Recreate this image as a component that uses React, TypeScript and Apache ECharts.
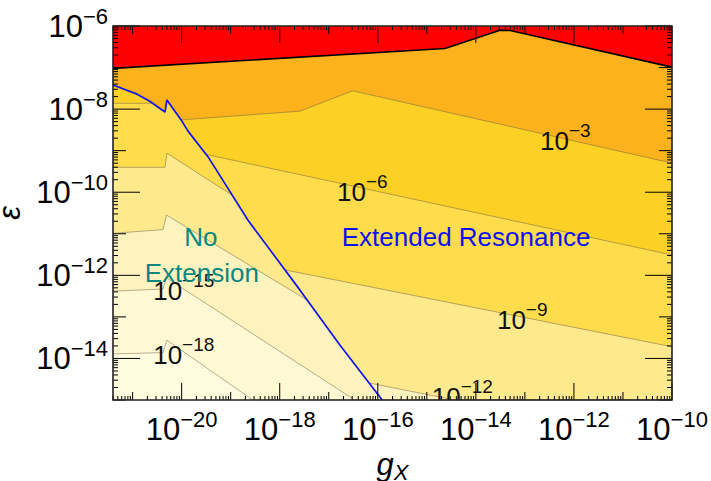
import React, { useEffect, useRef } from "react";
import * as echarts from "echarts";

// axis extents in log10 units
const X_MIN = -21.4;
const X_MAX = -10;
const Y_MIN = -15;
const Y_MAX = -6;

const xLabelValues = [-20, -18, -16, -14, -12, -10];
const yLabelValues = [-14, -12, -10, -8, -6];

// [log10 gX, log10 epsilon]
const redBoundary = [[-21.4, -7.02], [-14.63, -6.54], [-13.51, -6.1], [-13.3, -6.11], [-10.0, -6.99]];
const contour3 = [[-21.4, -7.42], [-20.91, -7.64], [-20.65, -7.81], [-20.34, -8.07], [-20.3, -7.78], [-20.2, -7.95], [-20.01, -8.26], [-17.59, -8.05], [-16.51, -7.56], [-10.0, -9.3]];
const contour6 = [[-21.4, -7.86], [-20.58, -7.86], [-20.34, -8.07], [-20.3, -7.78], [-20.2, -7.95], [-20.01, -8.26], [-19.87, -8.53], [-19.5, -9.09], [-10.0, -11.51]];
const contour9 = [[-21.4, -9.4], [-20.34, -9.4], [-20.3, -9.06], [-18.97, -10.07], [-18.65, -10.67], [-17.89, -11.87], [-10.0, -13.72]];
const contour12 = [[-21.4, -10.99], [-20.38, -10.9], [-20.31, -10.55], [-17.42, -12.61], [-16.77, -13.68], [-16.18, -14.59], [-14.43, -15.0], [-10.0, -15.0]];
const contour15 = [[-21.4, -12.38], [-20.38, -12.33], [-20.31, -12.06], [-16.47, -15.0], [-10.0, -15.0]];
const contour18 = [[-21.4, -13.89], [-20.38, -13.86], [-20.3, -13.56], [-18.55, -15.0], [-10.0, -15.0]];
const extensionBoundary = [[-21.4, -7.42], [-20.91, -7.64], [-20.65, -7.81], [-20.34, -8.07], [-20.3, -7.78], [-20.2, -7.95], [-20.01, -8.26], [-19.87, -8.53], [-19.46, -9.15], [-18.65, -10.67], [-17.59, -12.35], [-16.77, -13.68], [-15.91, -15.0]];

const contourLabelExps = ["−3", "−6", "−9", "−12", "−15", "−18"];
const contourLabelPos = [[-12.69, -8.77], [-16.83, -9.99], [-13.57, -13.07], [-14.9, -14.93], [-20.58, -12.38], [-20.58, -13.92]];

const regionTexts = ["No", "Extension", "Extended Resonance"];
const regionTextPos = [[-19.61, -11.08], [-19.59, -11.94], [-14.2, -11.08]];

const BG = "#FFFCE0";
const layers = [
  { data: contour18, fill: "#FFF9D3", stroke: "rgba(110,100,70,0.5)", width: 1 },
  { data: contour15, fill: "#FEF3BF", stroke: "rgba(110,100,70,0.5)", width: 1 },
  { data: contour12, fill: "#FEE98D", stroke: "rgba(110,100,70,0.5)", width: 1 },
  { data: contour9, fill: "#FEDC4C", stroke: "rgba(110,100,70,0.5)", width: 1 },
  { data: contour6, fill: "#FDD026", stroke: "rgba(110,100,70,0.5)", width: 1 },
  { data: contour3, fill: "#FBB21C", stroke: "rgba(110,100,70,0.5)", width: 1 },
  { data: redBoundary, fill: "#FF0000", stroke: "#000000", width: 1.6 },
];

const FONT = "'Liberation Sans', Arial, sans-serif";

function buildTicks(lo: number, hi: number, evenLen: number, oddLen: number, minorLen: number) {
  const out: number[][] = [];
  for (let d = Math.floor(lo) - 1; d <= Math.ceil(hi); d++) {
    if (d >= lo - 1e-9 && d <= hi + 1e-9) out.push([d, Math.abs(d) % 2 === 0 ? evenLen : oddLen]);
    for (let k = 2; k <= 9; k++) {
      const v = d + Math.log10(k);
      if (v > lo && v < hi) out.push([v, minorLen]);
    }
  }
  return out;
}

export default function App() {
  const ref = useRef<HTMLDivElement>(null);
  useEffect(() => {
    document.body.style.margin = "0";
    const chart = echarts.init(ref.current!, null, { renderer: "svg" });
    const supFormatter = (v: number) => `{b|10}{s|−${Math.round(-v)}}`;
    const labelRich = {
      b: { fontSize: 31, lineHeight: 42, fontFamily: FONT, color: "#000" },
      s: { fontSize: 22, lineHeight: 22, verticalAlign: "top", fontFamily: FONT, color: "#000" },
    };
    const xTicks = buildTicks(X_MIN, X_MAX, 17, 8, 4).map((t) => [t[0], Y_MIN, t[1]]);
    const yTicks = buildTicks(Y_MIN, Y_MAX, 27, 13, 5).map((t) => [X_MIN, t[0], t[1]]);

    const areaSeries = layers.map((l) => ({
      type: "line",
      data: l.data,
      symbol: "none",
      silent: true,
      z: 2,
      lineStyle: { color: l.stroke, width: l.width },
      areaStyle: { color: l.fill, origin: "end", opacity: 1 },
    }));

    const option: any = {
      animation: false,
      grid: {
        left: 113,
        right: 39,
        top: 26,
        bottom: 81,
        show: true,
        backgroundColor: BG,
        borderWidth: 0,
        containLabel: false,
        outerBoundsMode: "none",
      },
      xAxis: {
        type: "value",
        min: X_MIN,
        max: X_MAX,
        axisLine: { show: false },
        axisTick: { show: false },
        splitLine: { show: false },
        axisLabel: { customValues: xLabelValues, formatter: supFormatter, rich: labelRich, margin: 8 },
        name: "{g|g}{x|X}",
        nameLocation: "middle",
        nameGap: 43,
        nameTextStyle: {
          rich: {
            g: { fontSize: 31, fontStyle: "italic", fontFamily: FONT, lineHeight: 30, verticalAlign: "top", color: "#000" },
            x: { fontSize: 22, fontStyle: "italic", fontFamily: FONT, lineHeight: 20, padding: [12, 0, 0, 0], verticalAlign: "top", color: "#000" },
          },
        },
      },
      yAxis: {
        type: "value",
        min: Y_MIN,
        max: Y_MAX,
        axisLine: { show: false },
        axisTick: { show: false },
        splitLine: { show: false },
        axisLabel: { customValues: yLabelValues, formatter: supFormatter, rich: labelRich, margin: 5 },
        name: "ε",
        nameLocation: "middle",
        nameRotate: 90,
        nameGap: 80,
        nameTextStyle: { fontSize: 31, lineHeight: 28, fontStyle: "italic", fontFamily: FONT, color: "#000" },
      },
      series: [
        ...areaSeries,
        {
          type: "line",
          data: extensionBoundary,
          symbol: "none",
          silent: true,
          z: 3,
          lineStyle: { color: "#1414EE", width: 1.7 },
        },
        {
          type: "custom",
          z: 4,
          silent: true,
          clip: true,
          data: contourLabelPos,
          encode: { x: 0, y: 1 },
          renderItem: (params: any, api: any) => {
            const p = api.coord([api.value(0), api.value(1)]);
            return {
              type: "text",
              x: p[0],
              y: p[1],
              style: {
                text: `{b|10}{s|${contourLabelExps[params.dataIndex]}}`,
                align: "left",
                verticalAlign: "middle",
                rich: {
                  b: { fontSize: 26, lineHeight: 40, fontFamily: FONT, fill: "#111" },
                  s: { fontSize: 19, lineHeight: 19, verticalAlign: "top", fontFamily: FONT, fill: "#111" },
                },
              },
            };
          },
        },
        {
          type: "custom",
          z: 4,
          silent: true,
          data: regionTextPos,
          encode: { x: 0, y: 1 },
          renderItem: (params: any, api: any) => {
            const p = api.coord([api.value(0), api.value(1)]);
            const i = params.dataIndex;
            return {
              type: "text",
              x: p[0],
              y: p[1],
              style: {
                text: regionTexts[i],
                fontSize: 26,
                fontFamily: FONT,
                fill: i < 2 ? "#0C877E" : "#1010EE",
                align: "center",
                verticalAlign: "middle",
              },
            };
          },
        },
        {
          type: "custom",
          z: 5,
          silent: true,
          data: xTicks,
          encode: { x: 0, y: 1 },
          renderItem: (params: any, api: any) => {
            const v = api.value(0);
            const len = api.value(2);
            const b = api.coord([v, Y_MIN]);
            const t = api.coord([v, Y_MAX]);
            return {
              type: "group",
              children: [
                { type: "line", shape: { x1: b[0], y1: b[1], x2: b[0], y2: b[1] - len }, style: { stroke: "#000", lineWidth: 1 } },
                { type: "line", shape: { x1: t[0], y1: t[1], x2: t[0], y2: t[1] + len }, style: { stroke: "#000", lineWidth: 1 } },
              ],
            };
          },
        },
        {
          type: "custom",
          z: 5,
          silent: true,
          data: yTicks,
          encode: { x: 0, y: 1 },
          renderItem: (params: any, api: any) => {
            const v = api.value(1);
            const len = api.value(2);
            const l = api.coord([X_MIN, v]);
            const r = api.coord([X_MAX, v]);
            return {
              type: "group",
              children: [
                { type: "line", shape: { x1: l[0], y1: l[1], x2: l[0] + len, y2: l[1] }, style: { stroke: "#000", lineWidth: 1 } },
                { type: "line", shape: { x1: r[0], y1: r[1], x2: r[0] - len, y2: r[1] }, style: { stroke: "#000", lineWidth: 1 } },
              ],
            };
          },
        },
        {
          type: "custom",
          z: 6,
          silent: true,
          data: [[X_MIN, Y_MIN]],
          encode: { x: 0, y: 1 },
          renderItem: (params: any, api: any) => {
            const tl = api.coord([X_MIN, Y_MAX]);
            const br = api.coord([X_MAX, Y_MIN]);
            return {
              type: "rect",
              shape: { x: tl[0], y: tl[1], width: br[0] - tl[0], height: br[1] - tl[1] },
              style: { fill: "none", stroke: "#222", lineWidth: 1.6 },
            };
          },
        },
      ],
    };
    chart.setOption(option);
    return () => chart.dispose();
  }, []);
  return <div ref={ref} style={{ position: "absolute", left: 0, top: 0, width: 711, height: 481 }} />;
}
